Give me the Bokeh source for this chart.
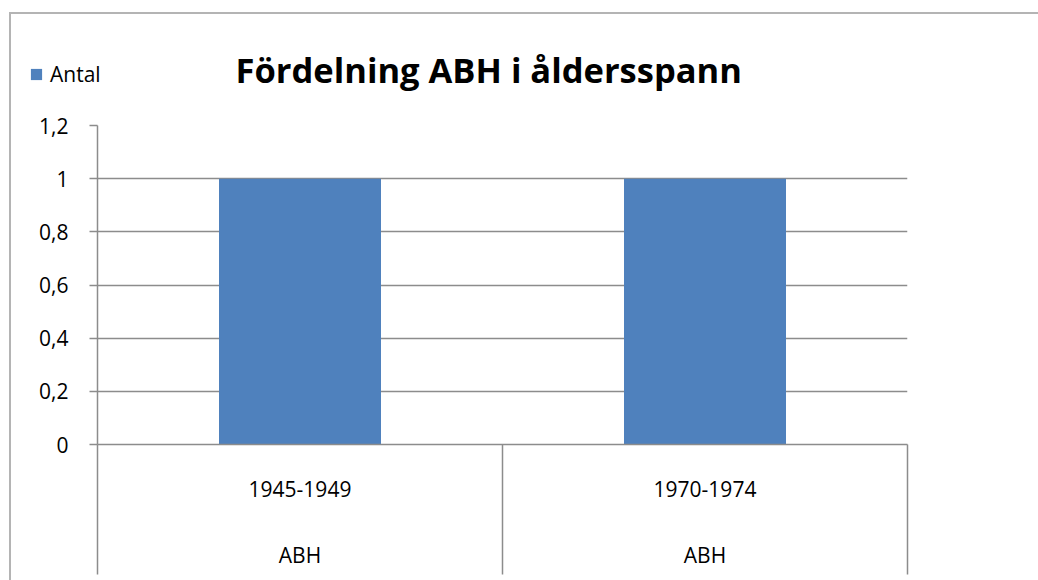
from bokeh.plotting import figure
from bokeh.layouts import column
from bokeh.models import (Range1d, FixedTicker, LinearAxis, Legend, LegendItem,
                          CustomJSTickFormatter, Label, ColumnDataSource, Grid)
from bokeh.embed import file_html
from bokeh.resources import INLINE

# ---- data ----
categories = ["1945-1949", "1970-1974"]
groups = ["ABH", "ABH"]
antal = [1, 1]
y_ticks = [0, 0.2, 0.4, 0.6, 0.8, 1.0, 1.2]
series_name = "Antal"
title_text = "Fördelning ABH i åldersspann"

xpos = [i + 0.5 for i in range(len(categories))]
bounds = list(range(len(categories) + 1))
src = ColumnDataSource(dict(x=xpos, top=antal, cat=categories))

GREY = "#8c8c8c"
BLUE = "#4f81bd"
FONT = "Open Sans"
FS = "21px"
W = 1027

# ---------------- header (legend + title) ----------------
hdr = figure(width=W, height=81, output_backend="svg", toolbar_location=None,
             x_range=Range1d(10, 11), y_range=Range1d(10, 11),
             x_axis_location=None, y_axis_location=None, title_location=None,
             min_border=0)
hdr.min_border_left = hdr.min_border_right = hdr.min_border_top = hdr.min_border_bottom = 0
hdr.frame_align = False
hdr.outline_line_color = None
hdr.center = [c for c in hdr.center if not isinstance(c, Grid)]
hr = hdr.vbar(x="x", top="top", width=0.4, source=src, fill_color=BLUE, line_color=None)
legend = Legend(items=[LegendItem(label=series_name, renderers=[hr])],
                location=(18, 7), padding=0, margin=0, spacing=0,
                glyph_width=14, glyph_height=14, label_standoff=7,
                border_line_color=None, background_fill_alpha=0,
                label_text_font=FONT, label_text_font_size=FS,
                label_text_color="black")
hdr.add_layout(legend)
hdr.add_layout(Label(x=224, y=26, x_units="screen", y_units="screen", text=title_text,
                     text_font=FONT, text_font_size="34.5px", text_font_style="bold",
                     text_color="black", text_align="left", text_baseline="alphabetic"))

# ---------------- main chart ----------------
p = figure(width=W, height=485, output_backend="svg", toolbar_location=None,
           x_range=Range1d(0, len(categories)), y_range=Range1d(0, 1.2),
           title_location=None,
           min_border_left=86, min_border_right=131,
           min_border_top=30, min_border_bottom=136)
p.frame_align = False
p.outline_line_color = None
p.background_fill_color = "white"
p.border_fill_color = "white"

p.vbar(x="x", top="top", width=0.4, source=src, fill_color=BLUE, line_color=None)

# y axis
ya = p.yaxis[0]
ya.ticker = FixedTicker(ticks=y_ticks)
ya.formatter = CustomJSTickFormatter(code="return Number(tick.toFixed(1)).toString().replace('.', ',');")
ya.axis_line_color = GREY
ya.axis_line_width = 1.5
ya.major_tick_line_color = GREY
ya.major_tick_line_width = 1.5
ya.major_tick_out = 8
ya.major_tick_in = 0
ya.minor_tick_line_color = None
ya.major_label_standoff = 21
ya.major_label_text_font = FONT
ya.major_label_text_font_size = FS
ya.major_label_text_color = "black"

p.ygrid.ticker = FixedTicker(ticks=y_ticks)
p.ygrid.grid_line_color = GREY
p.ygrid.grid_line_width = 1.5
p.xgrid.visible = False

# x axis (inner level) with category separators as minor ticks
xa = p.xaxis[0]
xa.ticker = FixedTicker(ticks=xpos, minor_ticks=bounds)
xa.major_label_overrides = {x: c for x, c in zip(xpos, categories)}
xa.axis_line_color = GREY
xa.axis_line_width = 1.5
xa.major_tick_line_color = None
xa.major_tick_out = 0
xa.major_tick_in = 0
xa.minor_tick_line_color = GREY
xa.minor_tick_line_width = 1.5
xa.minor_tick_out = 130
xa.minor_tick_in = 0
xa.major_label_standoff = 36 - 130
xa.major_label_text_font = FONT
xa.major_label_text_font_size = FS
xa.major_label_text_color = "black"

# outer level labels
xa2 = LinearAxis(ticker=FixedTicker(ticks=xpos, minor_ticks=[]),
                 major_label_overrides={x: g for x, g in zip(xpos, groups)})
xa2.axis_line_color = None
xa2.major_tick_line_color = None
xa2.minor_tick_line_color = None
xa2.major_tick_out = 0
xa2.major_tick_in = 0
xa2.major_label_standoff = 41
xa2.major_label_text_font = FONT
xa2.major_label_text_font_size = FS
xa2.major_label_text_color = "black"
p.add_layout(xa2, "below")

layout = column(hdr, p, spacing=0)
layout.styles = {"margin-left": "9px", "margin-top": "12px",
                 "border-top": "2px solid #b4b4b4", "border-left": "2px solid #b4b4b4"}

open("out.html", "w").write(file_html(layout, INLINE))
